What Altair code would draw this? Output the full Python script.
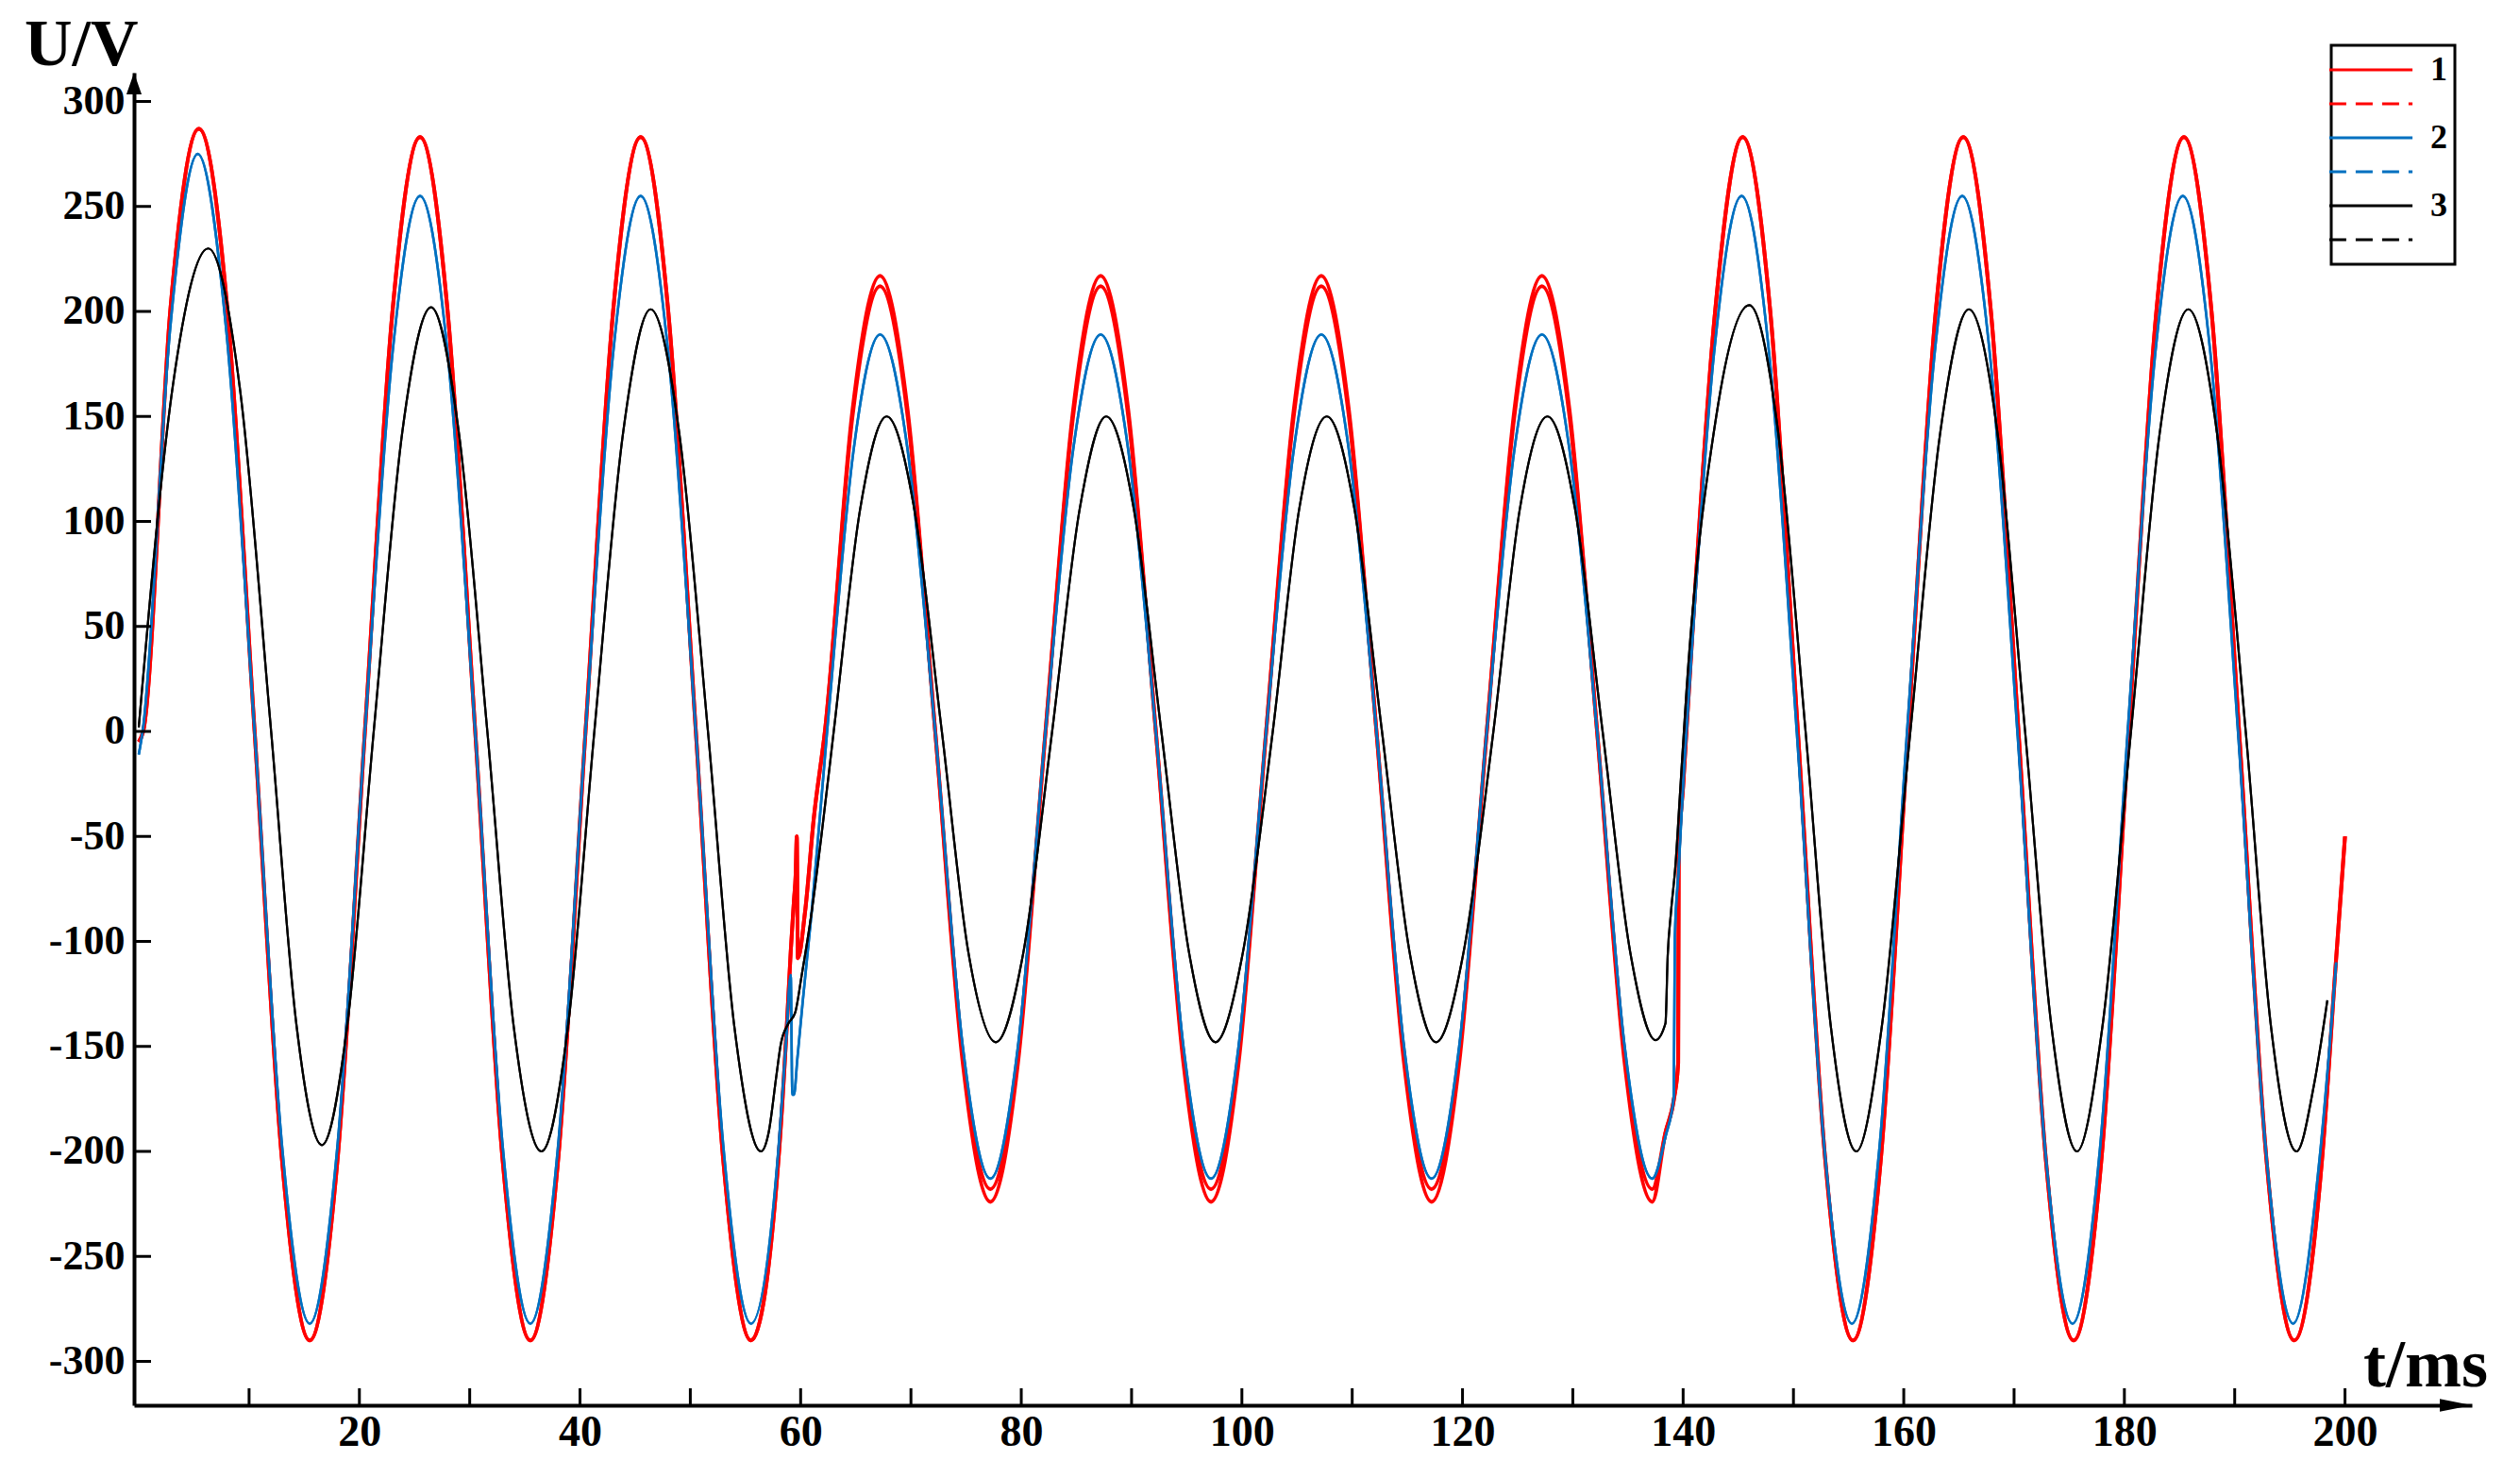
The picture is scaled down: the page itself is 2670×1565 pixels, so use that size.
import altair as alt
import pandas as pd

# ---- data (t in ms, U in V) ----
red_t = [0, 0.4, 2.9, 5.45, 8.0, 10.5, 13.0, 15.5, 18.0, 20.5, 23.0, 25.5, 28.0, 30.5, 33.0, 35.5, 38.0, 40.5, 43.0, 45.5, 48.0, 50.5, 53.0, 55.5, 58.1,
         58.8, 59.1, 59.4, 59.55, 59.65, 59.75, 60.4, 61.2,
         62.2, 64.7, 67.2, 69.7, 72.2, 74.7, 77.2, 79.7, 82.2, 84.7, 87.2, 89.7, 92.2, 94.7, 97.2, 99.7, 102.2, 104.7, 107.2, 109.7,
         112.2, 114.7, 117.2, 119.7, 122.2, 124.7, 127.2, 129.7, 132.2, 134.7, 137.2,
         138.4, 139.2, 139.55, 139.6, 140.0,
         140.3, 142.9, 145.4, 147.9, 150.4, 152.9, 155.4, 157.9, 160.4, 162.9, 165.4, 167.9, 170.4, 172.9, 175.4, 177.9,
         180.4, 182.9, 185.4, 187.9, 190.4, 192.9, 195.4, 197.9, 199.2, 200.0]
red_v = [-5, 0, 203, 287, 203, 0, -205, -290, -205, 0, 200, 283, 200, 0, -205, -290, -205, 0, 200, 283, 200, 0, -205, -290, -196,
         -135, -105, -80, -68, -50, -108, -86, -41,
         0, 153, 217, 153, 0, -158, -224, -158, 0, 153, 217, 153, 0, -158, -224, -158, 0, 153, 217, 153,
         0, -158, -224, -158, 0, 153, 217, 153, 0, -158, -224,
         -191, -174, -158, -59, -26,
         0, 200, 283, 200, 0, -205, -290, -205, 0, 200, 283, 200, 0, -205, -290, -205,
         0, 200, 283, 200, 0, -205, -290, -205, -108, -50]

red_dash_mid_t = [62.2, 64.7, 67.2, 69.7, 72.2, 74.7, 77.2, 79.7, 82.2, 84.7, 87.2, 89.7, 92.2, 94.7, 97.2, 99.7, 102.2, 104.7,
                  107.2, 109.7, 112.2, 114.7, 117.2, 119.7, 122.2, 124.7, 127.2, 129.7, 132.2, 134.7, 137.2]
red_dash_mid_v = [0, 150, 212, 150, 0, -154, -218, -154, 0, 150, 212, 150, 0, -154, -218, -154, 0, 150,
                  212, 150, 0, -154, -218, -154, 0, 150, 212, 150, 0, -154, -218]

blue_t = [0, 0.35, 2.85, 5.35, 7.95, 10.5, 13.0, 15.5, 18.0, 20.5, 23.0, 25.5, 28.0, 30.5, 33.0, 35.5, 38.0, 40.5, 43.0, 45.5, 48.0, 50.5, 53.0, 55.5, 58.0,
          58.7, 59.1, 59.25, 59.4, 59.7, 60.2, 61.0,
          62.4, 64.8, 67.2, 69.7, 72.2, 74.7, 77.2, 79.7, 82.2, 84.7, 87.2, 89.7, 92.2, 94.7, 97.2, 99.7, 102.2, 104.7, 107.2, 109.7,
          112.2, 114.7, 117.2, 119.7, 122.2, 124.7, 127.2, 129.7, 132.2, 134.7, 137.2,
          138.4, 139.15, 139.25, 139.6, 140.1,
          140.3, 142.8, 145.3, 147.8, 150.3, 152.8, 155.3, 157.8, 160.3, 162.8, 165.3, 167.8, 170.3, 172.8, 175.3, 177.8,
          180.3, 182.8, 185.3, 187.8, 190.3, 192.8, 195.3, 197.8, 199.2]
blue_v = [-11, 0, 192, 275, 190, 0, -198, -282, -198, 0, 180, 255, 180, 0, -198, -282, -198, 0, 180, 255, 180, 0, -198, -282, -198,
          -146, -116, -173, -173, -156, -128, -86,
          0, 134, 189, 134, 0, -150, -213, -150, 0, 134, 189, 134, 0, -150, -213, -150, 0, 134, 189, 134,
          0, -150, -213, -150, 0, 134, 189, 134, 0, -150, -213,
          -193, -174, -98, -65, -16,
          0, 180, 255, 180, 0, -198, -282, -198, 0, 180, 255, 180, 0, -198, -282, -198,
          0, 180, 255, 180, 0, -198, -282, -198, -110]

black_t = [0, 3.1, 6.3, 9.2, 12.0, 14.3, 16.6, 18.9, 21.3, 23.9, 26.5, 29.0, 31.6, 34.0, 36.5, 38.9, 41.3, 43.9, 46.4, 49.0, 51.6, 54.0, 56.4,
           57.1, 57.8, 58.2, 58.9, 59.5, 60.1, 61.0, 61.9,
           63.0, 65.4, 67.8, 70.3, 72.8, 75.2, 77.7, 80.2, 82.8, 85.3, 87.7, 90.2, 92.7, 95.2, 97.6, 100.1, 102.8, 105.2, 107.7, 110.2,
           112.7, 115.2, 117.6, 120.1, 122.8, 125.2, 127.7, 130.2, 132.7, 135.2, 137.5,
           138.4, 138.6, 138.9, 139.3, 139.7, 140.3,
           143.0, 146.0, 148.6, 151.1, 153.4, 155.7, 158.0, 160.6, 163.3, 165.9, 168.5, 171.0, 173.4, 175.7, 178.0,
           180.6, 183.2, 185.8, 188.4, 191.0, 193.3, 195.6, 197.2, 198.4]
black_v = [2, 165, 230, 162, 0, -140, -197, -140, 0, 143, 202, 143, 0, -141, -200, -141, 0, 142, 201, 142, 0, -141, -200,
           -191, -164, -149, -139, -134, -116, -86, -49,
           0, 106, 150, 106, 0, -105, -148, -105, 0, 106, 150, 106, 0, -105, -148, -105, 0, 106, 150, 106,
           0, -105, -148, -105, 0, 106, 150, 106, 0, -105, -147,
           -139, -107, -86, -64, -31, 19,
           150, 203, 143, 0, -141, -200, -141, 0, 142, 201, 142, 0, -141, -200, -141,
           0, 142, 201, 142, 0, -141, -200, -168, -128]

series_keys = ["1", "1d", "2", "2d", "3", "3d"]
series_colors = ["#FF0000", "#FF0000", "#0070C0", "#0070C0", "#000000", "#000000"]
series_dash = [[1, 0], [18, 10], [1, 0], [18, 10], [1, 0], [18, 10]]
series_width = [4.0, 4.0, 2.6, 2.6, 2.2, 2.2]

x_label_values = [20, 40, 60, 80, 100, 120, 140, 160, 180, 200]
x_tick_values = [10, 20, 30, 40, 50, 60, 70, 80, 90, 100, 110, 120, 130, 140, 150, 160, 170, 180, 190, 200]
y_tick_values = [-300, -250, -200, -150, -100, -50, 0, 50, 100, 150, 200, 250, 300]

# ---- build long table ----
rows = []
for t, v in zip(red_t, red_v):
    rows.append({"t": t, "v": v, "s": "1"})
red_dash = [(t, v) for t, v in zip(red_t, red_v) if t < red_dash_mid_t[0] or t > red_dash_mid_t[-1]]
red_dash += list(zip(red_dash_mid_t, red_dash_mid_v))
red_dash.sort()
for t, v in red_dash:
    rows.append({"t": t, "v": v, "s": "1d"})
for key in ["2", "2d"]:
    for t, v in zip(blue_t, blue_v):
        rows.append({"t": t, "v": v, "s": key})
for key in ["3", "3d"]:
    for t, v in zip(black_t, black_v):
        rows.append({"t": t, "v": v, "s": key})
df = pd.DataFrame(rows)

W, H = 2477, 1412
SERIF = "Liberation Serif"

xs = alt.Scale(domain=[-0.43, 211.5], nice=False, zero=False)
ys = alt.Scale(domain=[-320.9, 313.7], nice=False, zero=False)
cs = alt.Scale(domain=series_keys, range=series_colors)

x_axis = alt.Axis(values=x_label_values, ticks=False, grid=False, domainWidth=4, domainColor="black",
                  labelFont=SERIF, labelFontSize=46, labelFontWeight="bold", labelColor="black",
                  labelPadding=6, title=None, labelFlush=False)
y_axis = alt.Axis(values=y_tick_values, ticks=False, grid=False, domainWidth=4, domainColor="black",
                  labelFont=SERIF, labelFontSize=44, labelFontWeight="bold", labelColor="black",
                  labelPadding=10, title=None, labelFlush=False, labelExpr="'' + datum.value")


def X(field="t"):
    return alt.X(f"{field}:Q", scale=xs, axis=x_axis)


def Y(field="v"):
    return alt.Y(f"{field}:Q", scale=ys, axis=y_axis)


layers = []
for key in ["1d", "1", "2d", "2", "3d", "3"]:
    i = series_keys.index(key)
    layers.append(
        alt.Chart(df).transform_filter(alt.datum.s == key)
        .mark_line(interpolate="monotone", strokeWidth=series_width[i], strokeJoin="round",
                   color=series_colors[i])
        .encode(x=X(), y=Y())
    )

leg = alt.Legend(title=None, orient="none", legendX=2328, legendY=-29,
                 labelExpr="length(datum.label) > 1 ? '' : datum.label + '\u00a0\u00a0'",
                 symbolType="M-3.15,0L3.15,0", symbolSize=784, symbolStrokeWidth=3, symbolOffset=16,
                 symbolFillColor="transparent",
                 labelFont=SERIF, labelFontSize=36, labelFontWeight="bold", labelColor="black",
                 labelOffset=45, padding=8, rowPadding=0, strokeColor="black", fillColor="white")

legend_layer = (
    alt.Chart(df).transform_filter("false")
    .mark_line()
    .encode(
        x=X(), y=Y(),
        color=alt.Color("s:N", scale=cs, legend=leg),
        strokeDash=alt.StrokeDash("s:N", scale=alt.Scale(domain=series_keys, range=series_dash), legend=leg),
    )
)

ytick_df = pd.DataFrame({"v": y_tick_values})
xtick_df = pd.DataFrame({"t": x_tick_values})
ytick_layer = alt.Chart(ytick_df).mark_rule(strokeWidth=3, color="black").encode(
    y=Y(), x=alt.value(0), x2=alt.value(18))
xtick_layer = alt.Chart(xtick_df).mark_rule(strokeWidth=3, color="black").encode(
    x=X(), y=alt.value(H), y2=alt.value(H - 18))

one = alt.Data(values=[{"k": 0}])
arrow_y = alt.Chart(one).mark_point(shape="M0,-1L0.7,1L-0.7,1Z", size=529, filled=True, color="black",
                                    opacity=1).encode(x=alt.value(0), y=alt.value(11.5))
arrow_x = alt.Chart(one).mark_point(shape="M1,0L-1,-0.4L-1,0.4Z", size=1156, filled=True, color="black",
                                    opacity=1).encode(x=alt.value(W - 17), y=alt.value(H))
title_y = alt.Chart(one).mark_text(text="U/V", font=SERIF, fontSize=70, fontWeight="bold", align="left",
                                   baseline="alphabetic", color="black").encode(x=alt.value(-116), y=alt.value(-8))
title_x = alt.Chart(one).mark_text(text="t/ms", font=SERIF, fontSize=72, fontWeight="bold", align="left",
                                   baseline="alphabetic", color="black").encode(x=alt.value(2362), y=alt.value(H - 20))

chart = alt.layer(*layers, legend_layer, ytick_layer, xtick_layer, arrow_y, arrow_x, title_y, title_x).properties(
    width=W, height=H,
    padding={"left": 134, "top": 69, "right": 40, "bottom": 60},
    autosize=alt.AutoSizeParams(type="none"),
    background="white",
).configure_view(stroke=None).configure_legend(strokeWidth=3)

chart.save("out.html", embed_options={"renderer": "svg", "actions": False})
